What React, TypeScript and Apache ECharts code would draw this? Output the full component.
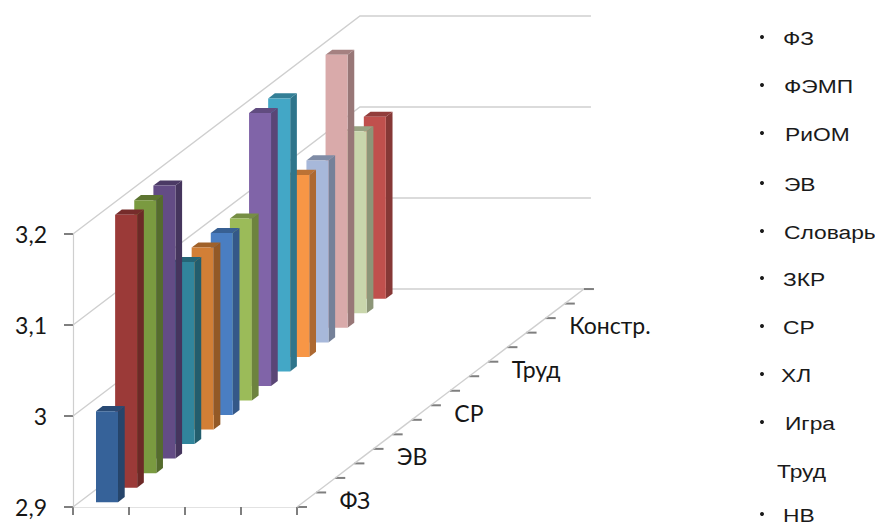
import React, { useEffect, useRef } from "react";
import * as echarts from "echarts";

const categories = ["ФЗ", "ФЭМП", "РиОМ", "ЭВ", "Словарь", "ЗКР", "СР", "ХЛ", "Игра", "Труд", "НВ", "", "Констр.", "", ""];
const barValues = [3.0, 3.2, 3.2, 3.2, 3.1, 3.1, 3.1, 3.1, 3.2, 3.2, 3.1, 3.1, 3.2, 3.1, 3.1];
const barColors = ["#366299", "#9B3A38", "#7A9A40", "#634C85", "#31859C", "#D27F36", "#4A7EC2", "#9BBB59", "#8064A8", "#43A7C6", "#F79646", "#A7B8DA", "#D9AAAA", "#C9D6AC", "#C0504D"];
const depthLabelEvery = 3;
const yTicks = [2.9, 3.0, 3.1, 3.2];
const legendNames = ["ФЗ", "ФЭМП", "РиОМ", "ЭВ", "Словарь", "ЗКР", "СР", "ХЛ", "Игра", "Труд", "НВ"];
const legendNoBullet = ["Труд"];

const legendLeft = [783, 784, 785, 784, 784, 783, 783, 781, 785, 777, 783];
const legendCenterY = [38, 86, 134, 184, 232, 279, 327, 375, 423, 471, 515];

const DEPTH_X = 19.13;
const DEPTH_Y = 14.53;
const DEPTH_COUNT = 15;
const BAR_X = 0.298;
const BAR_W = 0.393;
const BAR_D = 0.35;
const BAR_OFFSET = 0.33;
const GRID_LINE = "#cfcfcf";
const TICK = "#7f7f7f";
const TEXT = "#161616";

function project(api: any, x: number, v: number, d: number) {
  const c = api.coord([x, v]);
  return [c[0] + d * DEPTH_X, c[1] - d * DEPTH_Y];
}

function shade(hex: string, k: number) {
  const n = parseInt(hex.slice(1), 16);
  const r = Math.round(((n >> 16) & 255) * k);
  const g = Math.round(((n >> 8) & 255) * k);
  const b = Math.round((n & 255) * k);
  return `rgb(${r},${g},${b})`;
}

export default function App() {
  const ref = useRef<HTMLDivElement>(null);
  useEffect(() => {
    const chart = echarts.init(ref.current!, undefined, { renderer: "svg" });
    const graphic: any[] = [];
    legendNames.forEach((name, i) => {
      if (!legendNoBullet.includes(name)) {
        graphic.push({ type: "circle", shape: { cx: 762, cy: legendCenterY[i] - 1, r: 2 }, style: { fill: "#1a1a1a" }, silent: true });
      }
      graphic.push({
        type: "text",
        x: legendLeft[i],
        y: legendCenterY[i],
        scaleX: 1.2,
        silent: true,
        style: { text: name, fill: "#1a1a1a", font: "19px 'Liberation Sans'", align: "left", verticalAlign: "middle" },
      });
    });
    chart.setOption({
      animation: false,
      grid: { left: 73, top: 234, width: 224, height: 273 },
      xAxis: {
        type: "value", min: 0, max: 4, interval: 1,
        axisLine: { show: true, onZero: false, lineStyle: { color: "#e2e2e2", width: 1.2 } },
        axisTick: { show: true, length: 8, lineStyle: { color: TICK, width: 2 } },
        axisLabel: { show: false },
        splitLine: { show: false },
      },
      yAxis: {
        type: "value", min: 2.9, max: 3.2, interval: 0.1,
        axisLine: { show: true, lineStyle: { color: GRID_LINE, width: 1.2 } },
        axisTick: { show: true, length: 9, lineStyle: { color: TICK, width: 2 } },
        axisLabel: {
          margin: 26, color: TEXT, fontFamily: "Lato", fontSize: 23,
          formatter: (v: number) => String(Math.round(v * 10) / 10).replace(".", ","),
        },
        splitLine: { show: false },
      },
      graphic,
      series: [
        {
          type: "custom", silent: true, z: 1, clip: false,
          data: yTicks.map((v) => [0, v]),
          encode: { x: 0, y: 1 },
          renderItem: (_p: any, api: any) => {
            const v = api.value(1);
            const a = project(api, 0, v, 0);
            const b = project(api, 0, v, DEPTH_COUNT);
            const e = [b[0] + 231, b[1]];
            return { type: "polyline", shape: { points: [a, b, e] }, style: { stroke: GRID_LINE, lineWidth: 1.4, fill: "none" } };
          },
        },
        {
          type: "custom", silent: true, z: 2, clip: false,
          data: Array.from({ length: DEPTH_COUNT + 1 }, (_, i) => [i, 2.9]),
          encode: { x: 0, y: 1 },
          renderItem: (params: any, api: any) => {
            const i = api.value(0);
            const p = project(api, 4, 2.9, i);
            const children: any[] = [
              { type: "line", shape: { x1: p[0], y1: p[1], x2: p[0] + 10, y2: p[1] }, style: { stroke: TICK, lineWidth: 2 } },
            ];
            if (i < DEPTH_COUNT) {
              const n = project(api, 4, 2.9, i + 1);
              children.push({ type: "line", shape: { x1: p[0], y1: p[1], x2: n[0], y2: n[1] }, style: { stroke: GRID_LINE, lineWidth: 1.4 } });
            }
            if (i % depthLabelEvery === 0 && i < DEPTH_COUNT && categories[i]) {
              const m = project(api, 4, 2.9, i + 0.5);
              children.push({
                type: "text", x: m[0] + 33, y: m[1],
                style: { text: categories[i], fill: TEXT, font: "23px Lato", align: "left", verticalAlign: "middle" },
              });
            }
            return { type: "group", children };
          },
        },
        {
          type: "custom", silent: true, z: 3, clip: false,
          data: barValues.map((v, i) => [i, v]),
          encode: { x: 0, y: 1 },
          renderItem: (params: any, api: any) => {
            const i = api.value(0);
            const v = api.value(1);
            const color = barColors[i];
            const d0 = i + BAR_OFFSET;
            const d1 = d0 + BAR_D;
            const fbl = project(api, BAR_X, 2.9, d0);
            const fbr = project(api, BAR_X + BAR_W, 2.9, d0);
            const ftl = project(api, BAR_X, v, d0);
            const ftr = project(api, BAR_X + BAR_W, v, d0);
            const bbr = project(api, BAR_X + BAR_W, 2.9, d1);
            const btr = project(api, BAR_X + BAR_W, v, d1);
            const btl = project(api, BAR_X, v, d1);
            const z2 = 100 - i;
            return {
              type: "group",
              children: [
                { type: "polygon", z2, shape: { points: [fbr, bbr, btr, ftr] }, style: { fill: shade(color, 0.7) } },
                { type: "polygon", z2, shape: { points: [ftl, ftr, btr, btl] }, style: { fill: shade(color, 0.76) } },
                { type: "polygon", z2, shape: { points: [fbl, fbr, ftr, ftl] }, style: { fill: color } },
              ],
            };
          },
        },
      ],
    });
    return () => chart.dispose();
  }, []);
  return <div ref={ref} style={{ position: "fixed", left: 0, top: 0, width: 875, height: 524, background: "#fff" }} />;
}
